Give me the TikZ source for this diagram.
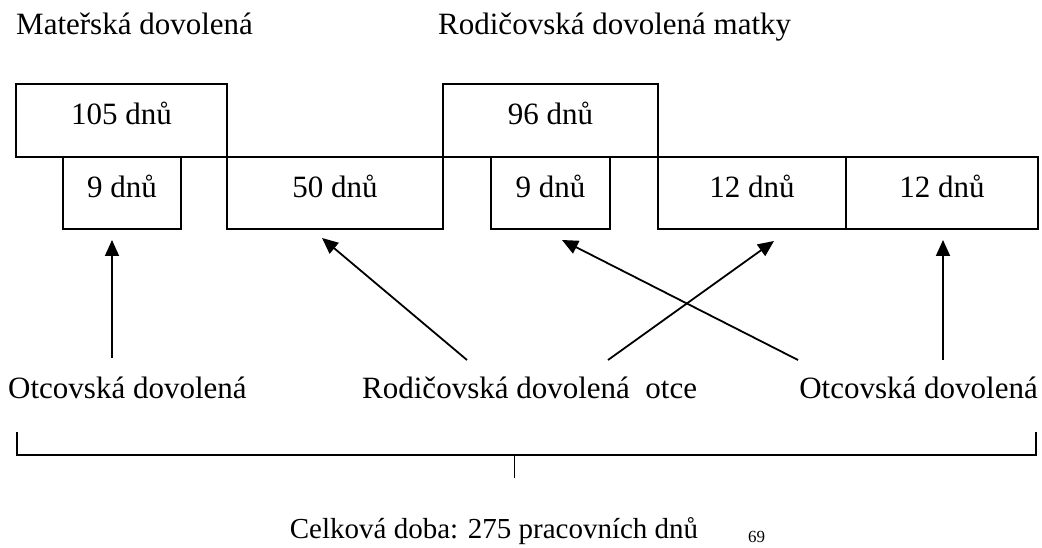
\documentclass[tikz,border=0pt]{standalone}
\usepackage{fontspec}
\setmainfont{Liberation Serif}
\usetikzlibrary{arrows.meta}
\begin{document}
\begin{tikzpicture}[x=1pt,y=-1pt,
  txt/.style={inner sep=0pt,font=\fontsize{31}{37}\selectfont},
  box/.style={draw,line width=1.8pt,inner sep=0pt,minimum height=72pt,
    text height=20pt,text depth=11pt,font=\fontsize{31}{37}\selectfont},
  arr/.style={line width=1.8pt,-{Triangle[length=16pt,width=14pt]}},
  brk/.style={line width=2pt},
  tick/.style={line width=0.9pt}]
\useasboundingbox (0,0) rectangle (1042,548);
% top labels
\node[txt,anchor=base west] (mat) at (16,35) {Mateřská dovolená};
\node[txt,anchor=base west] (rodm) at (438,35) {Rodičovská dovolená matky};
% boxes
\node[box,minimum width=211pt,minimum height=73pt] (b105) at (121.5,120.5) {105 dnů};
\node[box,minimum width=215pt,minimum height=73pt] (b96) at (550.5,120.5) {96 dnů};
\node[box,minimum width=118pt] (b9a) at (122,193) {9 dnů};
\node[box,minimum width=216pt] (b50) at (335,193) {50 dnů};
\node[box,minimum width=119pt] (b9b) at (550.5,193) {9 dnů};
\node[box,minimum width=188pt] (b12a) at (752,193) {12 dnů};
\node[box,minimum width=192pt] (b12b) at (942,193) {12 dnů};
% bottom labels
\node[txt,anchor=base west] (o1) at (8,398) {Otcovská dovolená};
\node[txt,anchor=base west] (rodo) at (362,398) {Rodičovská dovolená\ \ otce};
\node[txt,anchor=base east] (o2) at (1038,398) {Otcovská dovolená};
% arrow ends
\coordinate (t1) at (112,358); \coordinate (h1) at (112,240);
\coordinate (t2) at (467,360); \coordinate (h2) at (322,238);
\coordinate (t3) at (608,360); \coordinate (h3) at (774,241);
\coordinate (t4) at (798,360); \coordinate (h4) at (562,240);
\coordinate (t5) at (943,360); \coordinate (h5) at (943,240);
\draw[arr] (t1) -- (h1);
\draw[arr] (t2) -- (h2);
\draw[arr] (t3) -- (h3);
\draw[arr] (t4) -- (h4);
\draw[arr] (t5) -- (h5);
% bracket
\coordinate (k1) at (17,432); \coordinate (k2) at (17,455);
\coordinate (k3) at (1036,455); \coordinate (k4) at (1036,432);
\coordinate (m1) at (514,455); \coordinate (m2) at (514,478);
\draw[brk] (k1) -- (k2) -- (k3) -- (k4);
\draw[tick] (m1) -- (m2);
% total
\node[inner sep=0pt,anchor=base,font=\fontsize{29}{35}\selectfont] (celk) at (494,538) {Celková doba: 275 pracovních dnů};
\node[inner sep=0pt,anchor=base west,font=\fontsize{17}{20}\selectfont] (pg) at (748,542) {69};
\end{tikzpicture}
\end{document}
